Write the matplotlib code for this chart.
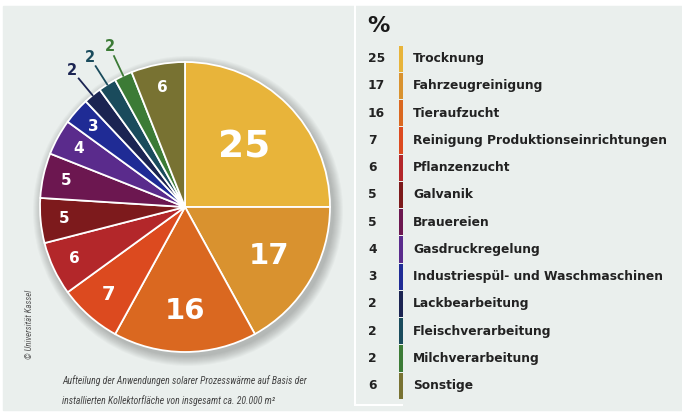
import matplotlib.pyplot as plt
from matplotlib import font_manager
from matplotlib.patches import Circle, Rectangle
import numpy as np

# Anteile solarer Prozesswärme (%)
kategorien = ["Trocknung", "Fahrzeugreinigung", "Tieraufzucht",
              "Reinigung Produktionseinrichtungen", "Pflanzenzucht", "Galvanik",
              "Brauereien", "Gasdruckregelung", "Industriespül- und Waschmaschinen",
              "Lackbearbeitung", "Fleischverarbeitung", "Milchverarbeitung", "Sonstige"]
anteile = [25, 17, 16, 7, 6, 5, 5, 4, 3, 2, 2, 2, 6]
farben = ["#e8b43a", "#d9922f", "#da6820", "#dc4a1f", "#b3272a", "#7d1a1c",
          "#6c1750", "#5a2b8c", "#1f2b95", "#1b2452", "#1a4b5c", "#3c7b36", "#787232"]
aussen = ["Lackbearbeitung", "Fleischverarbeitung", "Milchverarbeitung"]


def schmale_schrift():
    for name in ["Liberation Sans Narrow", "DejaVu Sans Condensed", "Roboto Condensed"]:
        try:
            font_manager.findfont(name, fallback_to_default=False)
            return name, 1.0
        except ValueError:
            pass
    return "Liberation Sans", 0.82


bg = "#eaefed"
W, H = 682, 416
fig = plt.figure(figsize=(W / 100, H / 100), dpi=100)
fig.patch.set_facecolor("white")
ax = fig.add_axes([0, 0, 1, 1])

# Hintergrundfläche
ax.add_patch(Rectangle((3, 6), W - 3, H - 12, color=bg, zorder=0))

cx, cy, r = 185, 209, 145

# weicher Schatten
for k in range(10):
    ax.add_patch(Circle((cx + 3, cy - 4), r + 10 - k, color="black",
                        alpha=0.022, lw=0, zorder=1))

wedges, _ = ax.pie(anteile, colors=farben, startangle=90, counterclock=False,
                   center=(cx, cy), radius=r, frame=True,
                   wedgeprops=dict(edgecolor="white", linewidth=1.3))
for w in wedges:
    w.set_zorder(2)
ax.set_xlim(0, W)
ax.set_ylim(0, H)
ax.set_aspect("equal")
ax.axis("off")

# Beschriftungen in der Torte
gross = {0: (0.58, 27), 1: (0.67, 21), 2: (0.72, 21), 3: (0.8, 14)}
for i, (w, v) in enumerate(zip(wedges, anteile)):
    mid = np.deg2rad((w.theta1 + w.theta2) / 2)
    dist, fs = gross.get(i, (0.84, 11))
    if kategorien[i] in aussen:
        x0, y0 = cx + r * np.cos(mid), cy + r * np.sin(mid)
        x1, y1 = cx + 1.15 * r * np.cos(mid), cy + 1.15 * r * np.sin(mid)
        ax.plot([x0, x1], [y0, y1], color=farben[i], lw=1.3, zorder=3)
        xt, yt = cx + 1.22 * r * np.cos(mid), cy + 1.22 * r * np.sin(mid)
        ax.text(xt, yt, str(v), color=farben[i], fontsize=10.5, fontweight="bold",
                ha="center", va="center", zorder=3)
    else:
        xt, yt = cx + dist * r * np.cos(mid), cy + dist * r * np.sin(mid)
        ax.text(xt, yt, str(v), color="white", fontsize=fs, fontweight="bold",
                ha="center", va="center", zorder=3)

# Legendenspalte
ax.plot([355, 355], [H - 6, H - 405], color="white", lw=1.5, zorder=1)
ax.plot([355, 402], [H - 405, H - 405], color="white", lw=1.5, zorder=1)
ax.text(378, H - 26, "%", fontsize=16, fontweight="bold", color="#1a1a1a",
        ha="center", va="center")
y_top = H - 45
schritt = 27.25
for i, (kat, v) in enumerate(zip(kategorien, anteile)):
    y0 = y_top - i * schritt
    ax.add_patch(Rectangle((399, y0 - schritt + 0.5), 4, schritt - 1,
                           color=farben[i], lw=0, zorder=2))
    ym = y0 - schritt / 2
    ax.text(368, ym, str(v), fontsize=8.8, fontweight="bold", color="#222222",
            ha="left", va="center")
    ax.text(413, ym, kat, fontsize=8.8, fontweight="bold", color="#222222",
            ha="left", va="center")

# Quelle und Bildunterschrift
name, f = schmale_schrift()
schmal = [name, "DejaVu Sans"]
ax.text(30, H - 324, "© Universität Kassel", rotation=90, fontsize=6.3 * f,
        family=schmal, style="italic", color="#555555", ha="center", va="center")
ax.text(62, H - 381, "Aufteilung der Anwendungen solarer Prozesswärme auf Basis der",
        fontsize=7 * f, family=schmal, style="italic", color="#444444",
        ha="left", va="center")
ax.text(62, H - 401, "installierten Kollektorfläche von insgesamt ca. 20.000 m²",
        fontsize=7 * f, family=schmal, style="italic", color="#444444",
        ha="left", va="center")

fig.savefig("out.png", dpi=100, facecolor=fig.get_facecolor())
